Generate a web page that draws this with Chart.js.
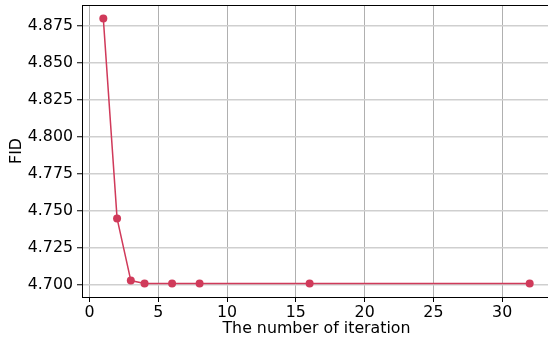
<!DOCTYPE html>
<html>
<head>
<meta charset="utf-8">
<script src="https://cdn.jsdelivr.net/npm/chart.js@4/dist/chart.umd.min.js"></script>
<style>
  html, body { margin: 0; padding: 0; background: #fff; overflow: hidden; }
  #wrap { width: 560px; height: 341px; }
</style>
</head>
<body>
<div id="wrap"><canvas id="c" width="560" height="341"></canvas></div>
<script>
const iterations = [1, 2, 3, 4, 6, 8, 16, 32];
const fidValues = [4.880, 4.745, 4.703, 4.701, 4.701, 4.701, 4.701, 4.701];
const xTickStep = 5;
const yTickStep = 0.025;
const xLabel = 'The number of iteration';
const yLabel = 'FID';

const FONT = 'DejaVu Sans';
const FS = 15.8;

const topSpine = {
  id: 'topSpine',
  afterDraw(chart) {
    const { ctx, chartArea } = chart;
    ctx.save();
    ctx.strokeStyle = '#000';
    ctx.lineWidth = 1;
    ctx.beginPath();
    ctx.moveTo(chartArea.left, Math.round(chartArea.top) + 0.5);
    ctx.lineTo(chartArea.right, Math.round(chartArea.top) + 0.5);
    ctx.stroke();
    ctx.restore();
  }
};

new Chart(document.getElementById('c'), {
  type: 'line',
  data: {
    datasets: [{
      data: iterations.map((x, i) => ({ x: x, y: fidValues[i] })),
      borderColor: '#d03a5a',
      backgroundColor: '#d03a5a',
      borderWidth: 1.5,
      pointRadius: 4,
      pointBorderWidth: 0,
      pointBackgroundColor: '#d03a5a',
      tension: 0
    }]
  },
  options: {
    responsive: false,
    animation: false,
    devicePixelRatio: 1,
    layout: { padding: { top: 5, right: 9, left: 0, bottom: 0 } },
    plugins: { legend: { display: false }, tooltip: { enabled: false } },
    scales: {
      x: {
        type: 'linear',
        min: -0.55,
        max: 33.55,
        afterFit(s) { s.height = 44; s.paddingLeft = 0; s.paddingRight = 0; },
        ticks: {
          stepSize: xTickStep,
          includeBounds: false,
          color: '#000',
          font: { family: FONT, size: FS },
          padding: 1,
          maxRotation: 0
        },
        grid: {
          color: '#b0b0b0',
          lineWidth: 1,
          tickColor: '#000',
          tickLength: 5,
          tickWidth: 1
        },
        border: { display: true, color: '#000', width: 1 },
        title: {
          display: true,
          text: xLabel,
          color: '#000',
          font: { family: FONT, size: FS },
          padding: { top: 0, bottom: 3 }
        }
      },
      y: {
        type: 'linear',
        min: 4.6919,
        max: 4.8892,
        afterFit(s) { s.width = 82; s.paddingTop = 0; s.paddingBottom = 0; },
        ticks: {
          stepSize: yTickStep,
          includeBounds: false,
          color: '#000',
          font: { family: FONT, size: FS },
          padding: 4,
          callback: v => v.toFixed(3)
        },
        grid: {
          color: '#cfcfcf',
          lineWidth: 1.5,
          tickColor: '#000',
          tickLength: 5,
          tickWidth: 1
        },
        border: { display: true, color: '#000', width: 1 },
        title: {
          display: true,
          text: yLabel,
          color: '#000',
          font: { family: FONT, size: FS },
          padding: { top: 7, bottom: 0 }
        }
      }
    }
  },
  plugins: [topSpine]
});
</script>
</body>
</html>
